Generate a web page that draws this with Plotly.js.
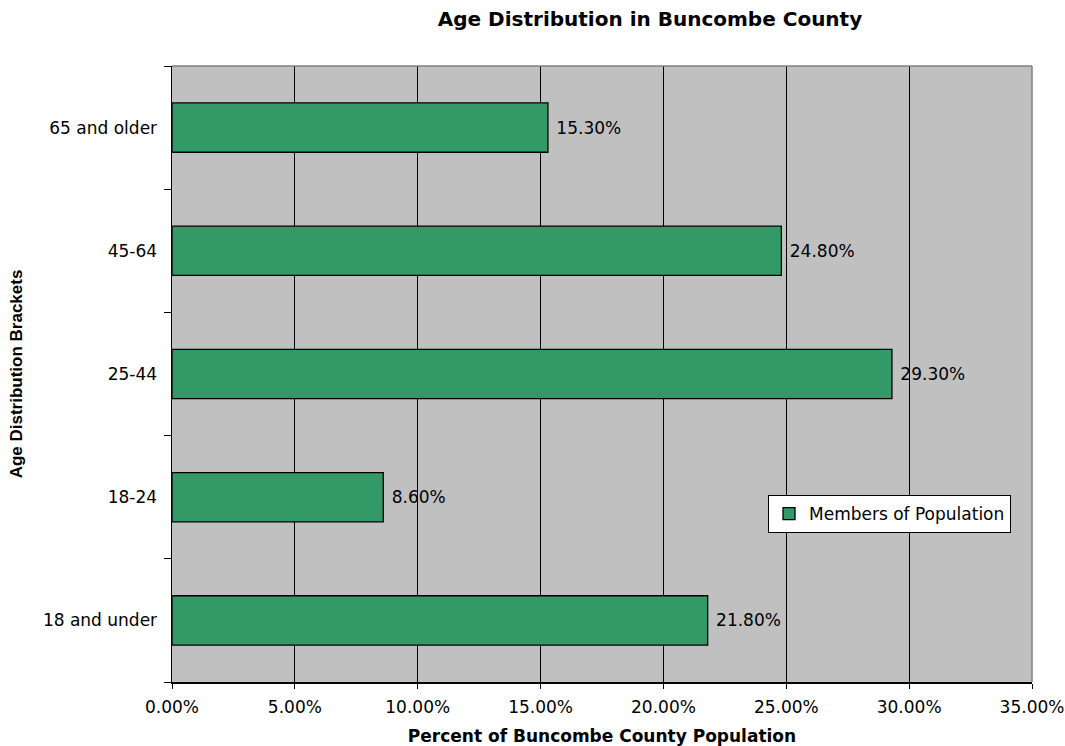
<!DOCTYPE html>
<html>
<head>
<meta charset="utf-8">
<script src="https://cdn.plot.ly/plotly-3.0.1.min.js"></script>
<style>html,body{margin:0;padding:0;background:#fff;}#chart{width:1065px;height:746px;}</style>
</head>
<body>
<div id="chart"></div>
<script>
const categories = ["18 and under", "18-24", "25-44", "45-64", "65 and older"];
const values = [0.218, 0.086, 0.293, 0.248, 0.153];
const seriesName = "Members of Population";
const xTicks = [0, 0.05, 0.10, 0.15, 0.20, 0.25, 0.30, 0.35];
const xTickLabels = ["0.00%", "5.00%", "10.00%", "15.00%", "20.00%", "25.00%", "30.00%", "35.00%"];
const titleText = "Age Distribution in Buncombe County";
const xTitle = "Percent of Buncombe County Population";
const yTitle = "Age Distribution Brackets";

const FONT = "DejaVu Sans, Liberation Sans, Arial, sans-serif";

const trace = {
  type: "bar",
  orientation: "h",
  y: categories,
  x: values,
  name: seriesName,
  width: 0.4,
  marker: {color: "#339966", line: {color: "#000000", width: 1.3}},
  text: values.map(v => "\u00a0" + (v * 100).toFixed(2) + "%"),
  textposition: "outside",
  cliponaxis: false,
  textfont: {family: FONT, size: 17, color: "#000"},
  showlegend: true,
  hoverinfo: "none"
};

const layout = {
  width: 1065,
  height: 746,
  margin: {l: 172, r: 33, t: 66, b: 64},
  paper_bgcolor: "#ffffff",
  plot_bgcolor: "#C0C0C0",
  font: {family: FONT, size: 17, color: "#000"},
  title: {
    text: titleText,
    font: {family: FONT, size: 20, weight: "bold", color: "#000"},
    x: 650 / 1065, xref: "container", xanchor: "center",
    y: 1 - 19 / 746, yref: "container", yanchor: "middle"
  },
  xaxis: {
    range: [0, 0.35],
    tickvals: xTicks,
    ticktext: xTickLabels,
    ticks: "outside",
    ticklen: 5,
    tickcolor: "#000",
    tickwidth: 1,
    ticklabelstandoff: 4,
    showgrid: true,
    gridcolor: "#000000",
    gridwidth: 1,
    zeroline: false,
    showline: true,
    linecolor: "#000",
    linewidth: 1.5,
    tickfont: {family: FONT, size: 17},
    title: {text: xTitle, font: {family: FONT, size: 17, weight: "bold"}, standoff: 14},
    fixedrange: true
  },
  yaxis: {
    type: "category",
    categoryorder: "array",
    categoryarray: categories,
    range: [-0.5, 4.5],
    ticks: "outside",
    tickson: "boundaries",
    ticklen: 7,
    tickcolor: "#000",
    tickwidth: 1,
    showgrid: false,
    zeroline: false,
    showline: true,
    linecolor: "#000",
    linewidth: 1.5,
    tickfont: {family: FONT, size: 17},
    ticklabelstandoff: 10,
    title: {text: yTitle, font: {family: "Liberation Sans, Arial, sans-serif", size: 17, weight: "bold"}, standoff: 16},
    fixedrange: true
  },
  legend: {
    x: (768 - 172) / 860,
    y: (682 - 495) / 616,
    xanchor: "left",
    yanchor: "top",
    bgcolor: "#ffffff",
    bordercolor: "#000000",
    borderwidth: 1,
    font: {family: FONT, size: 17, color: "#000"}
  },
  shapes: [
    {type: "line", xref: "paper", yref: "paper", x0: 0, x1: 1, y0: 1, y1: 1, line: {color: "#808080", width: 1.5}, layer: "above"},
    {type: "line", xref: "paper", yref: "paper", x0: 1, x1: 1, y0: 0, y1: 1, line: {color: "#808080", width: 1.5}, layer: "above"}
  ],
  bargap: 0.6
};

Plotly.newPlot("chart", [trace], layout, {displayModeBar: false, staticPlot: true});
</script>
</body>
</html>
